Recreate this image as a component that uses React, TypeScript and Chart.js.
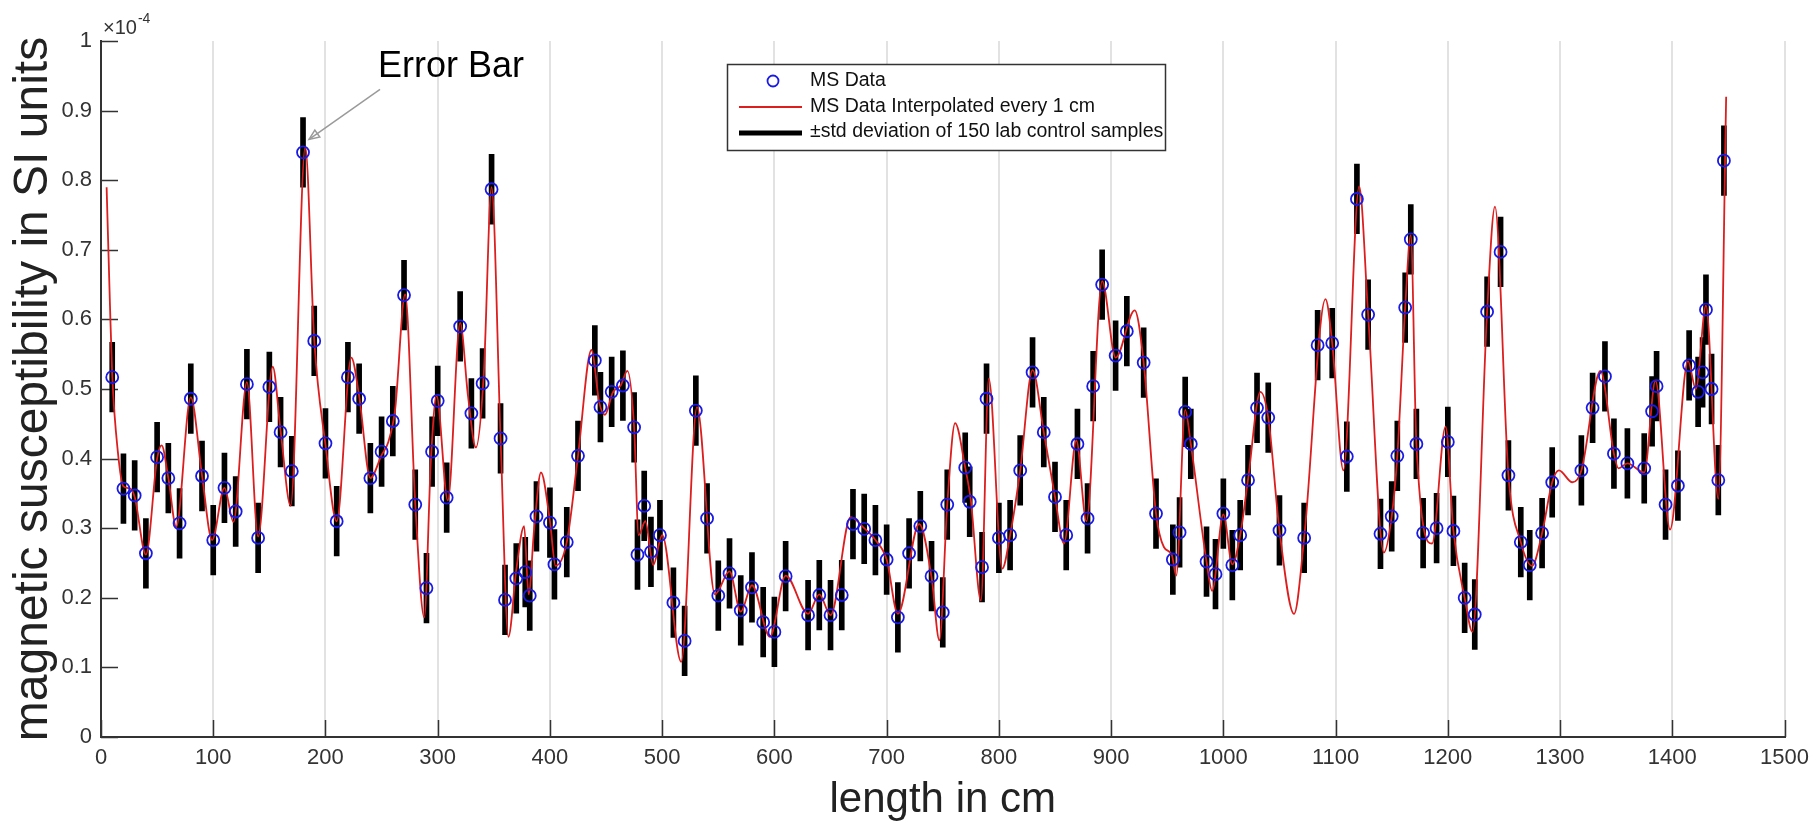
import React, { useEffect, useRef } from 'react';
import { Chart, registerables } from 'chart.js';

Chart.register(...registerables);

// ---- data (values in units of 1e-4 SI) ----
const MS_X = [
  10, 20, 30, 40, 50, 60, 70, 80, 90, 100, 110, 120, 130, 140, 150, 160, 170, 180, 190, 200,
  210, 220, 230, 240, 250, 260, 270, 280, 290, 295, 300, 308, 320, 330, 340, 348, 356, 360, 370, 378,
  382, 388, 400, 404, 415, 425, 440, 445, 455, 465, 475, 478, 484, 490, 498, 510, 520, 530, 540, 550,
  560, 570, 580, 590, 600, 610, 630, 640, 650, 660, 670, 680, 690, 700, 710, 720, 730, 740, 750, 754,
  770, 774, 785, 789, 800, 810, 819, 830, 840, 850, 860, 870, 879, 884, 892, 904, 914, 929, 940, 955,
  961, 966, 971, 985, 993, 1000, 1008, 1015, 1022, 1030, 1040, 1050, 1072, 1084, 1097, 1110, 1119, 1129, 1140, 1150,
  1155, 1162, 1167, 1172, 1178, 1190, 1200, 1205, 1215, 1224, 1235, 1247, 1254, 1265, 1273, 1284, 1293, 1319, 1329, 1340,
  1348, 1360, 1375, 1382, 1386, 1394, 1405, 1415, 1423, 1427, 1430, 1435, 1441, 1446,
];
const MS_Y = [
  0.517, 0.357, 0.347, 0.264, 0.402, 0.372, 0.307, 0.486, 0.375, 0.283, 0.358, 0.324, 0.507, 0.286, 0.503, 0.438, 0.382, 0.840, 0.569, 0.422,
  0.310, 0.517, 0.486, 0.372, 0.410, 0.454, 0.635, 0.334, 0.214, 0.410, 0.483, 0.344, 0.590, 0.465, 0.508, 0.787, 0.429, 0.197, 0.228, 0.237,
  0.203, 0.317, 0.308, 0.248, 0.280, 0.404, 0.541, 0.474, 0.496, 0.505, 0.445, 0.262, 0.332, 0.266, 0.290, 0.193, 0.138, 0.469, 0.314, 0.203,
  0.235, 0.182, 0.215, 0.165, 0.151, 0.231, 0.175, 0.204, 0.175, 0.204, 0.306, 0.299, 0.283, 0.255, 0.172, 0.264, 0.303, 0.231, 0.179, 0.334,
  0.387, 0.338, 0.244, 0.486, 0.286, 0.290, 0.383, 0.524, 0.438, 0.345, 0.290, 0.421, 0.314, 0.504, 0.650, 0.548, 0.583, 0.538, 0.321, 0.255,
  0.294, 0.467, 0.421, 0.252, 0.234, 0.321, 0.247, 0.290, 0.369, 0.473, 0.459, 0.297, 0.286, 0.563, 0.566, 0.403, 0.773, 0.607, 0.292, 0.317,
  0.404, 0.617, 0.715, 0.421, 0.293, 0.300, 0.424, 0.296, 0.200, 0.176, 0.611, 0.697, 0.376, 0.280, 0.247, 0.293, 0.366, 0.383, 0.473, 0.518,
  0.407, 0.393, 0.386, 0.468, 0.504, 0.334, 0.361, 0.534, 0.496, 0.524, 0.614, 0.500, 0.369, 0.828,
];

// red interpolated curve, vertices
const CURVE_X = [
  5, 8, 10, 15, 20, 26, 30, 40, 50, 54, 60, 67, 80, 90, 99, 110, 118, 130, 140, 153,
  160, 169, 182, 190, 200, 210, 223, 230, 240, 250, 256, 262, 271, 280, 288, 294, 299, 309, 320, 327,
  334, 341, 348, 356, 363, 370, 377, 381, 386, 392, 400, 405, 415, 425, 437, 444, 449, 456, 463, 469,
  475, 479, 485, 492, 500, 517, 531, 547, 560, 570, 580, 596, 610, 630, 640, 650, 668, 680, 690, 700,
  710, 729, 740, 747, 754, 761, 770, 775, 784, 791, 803, 810, 819, 830, 840, 850, 858, 869, 878, 892,
  904, 921, 929, 940, 947, 954, 958, 966, 971, 985, 990, 1000, 1008, 1015, 1022, 1033, 1040, 1050, 1063, 1072,
  1091, 1097, 1107, 1121, 1129, 1143, 1150, 1155, 1162, 1167, 1172, 1186, 1198, 1205, 1215, 1222, 1235, 1242, 1254, 1265,
  1275, 1284, 1293, 1299, 1311, 1319, 1336, 1348, 1352, 1360, 1375, 1385, 1398, 1414, 1421, 1430, 1441, 1448,
];
const CURVE_Y = [
  0.79, 0.62, 0.52, 0.41, 0.36, 0.357, 0.345, 0.262, 0.40, 0.419, 0.372, 0.302, 0.488, 0.376, 0.283, 0.358, 0.309, 0.51, 0.288, 0.532,
  0.44, 0.332, 0.848, 0.57, 0.42, 0.31, 0.545, 0.49, 0.372, 0.405, 0.424, 0.47, 0.636, 0.335, 0.172, 0.40, 0.49, 0.34, 0.595, 0.49,
  0.416, 0.52, 0.79, 0.43, 0.144, 0.24, 0.303, 0.205, 0.30, 0.38, 0.31, 0.246, 0.28, 0.404, 0.556, 0.48, 0.463, 0.495, 0.505, 0.526,
  0.445, 0.29, 0.31, 0.247, 0.29, 0.108, 0.474, 0.205, 0.238, 0.18, 0.218, 0.144, 0.232, 0.177, 0.205, 0.175, 0.316, 0.30, 0.283, 0.255,
  0.177, 0.306, 0.23, 0.139, 0.334, 0.451, 0.387, 0.34, 0.196, 0.515, 0.242, 0.29, 0.383, 0.527, 0.438, 0.345, 0.278, 0.426, 0.31, 0.655,
  0.545, 0.613, 0.538, 0.321, 0.273, 0.262, 0.232, 0.47, 0.421, 0.252, 0.21, 0.32, 0.248, 0.29, 0.37, 0.496, 0.459, 0.297, 0.177, 0.286,
  0.629, 0.566, 0.383, 0.791, 0.607, 0.265, 0.317, 0.404, 0.617, 0.721, 0.421, 0.278, 0.446, 0.296, 0.2, 0.151, 0.611, 0.762, 0.376, 0.28,
  0.246, 0.293, 0.366, 0.383, 0.366, 0.383, 0.526, 0.407, 0.386, 0.393, 0.38, 0.512, 0.298, 0.54, 0.50, 0.62, 0.342, 0.92,
];

const STD = 0.05; // ± std deviation of lab control samples
const X_MIN = 0;
const X_MAX = 1500;
const X_STEP = 100;
const Y_MIN = 0;
const Y_MAX = 1;
const Y_STEP = 0.1;

const LEGEND_LABELS = [
  'MS Data',
  'MS Data Interpolated every 1 cm',
  '\u00B1std deviation of 150 lab control samples',
];
const Y_TITLE = 'magnetic susceptibility in SI units';
const X_TITLE = 'length in cm';
const ANNOTATION = 'Error Bar';
const ANNOT_X = 180;
const ANNOT_Y = 0.84;

const BLUE = '#1a1ae6';
const RED = '#dc1e1e';
const FONT = '"Liberation Sans", Arial, Helvetica, sans-serif';

const overlayPlugin = {
  id: 'overlay',
  beforeDatasetsDraw(chart: any) {
    const { ctx, chartArea, scales } = chart;
    const xs = scales.x;
    const ys = scales.y;
    ctx.save();
    ctx.strokeStyle = '#333';
    ctx.lineWidth = 1.5;
    ctx.beginPath();
    for (const t of xs.ticks) {
      const px = Math.round(xs.getPixelForValue(t.value)) + 0.5;
      ctx.moveTo(px, chartArea.bottom);
      ctx.lineTo(px, chartArea.bottom - 17);
    }
    for (const t of ys.ticks) {
      const py = Math.round(ys.getPixelForValue(t.value)) + 0.5;
      ctx.moveTo(chartArea.left, py);
      ctx.lineTo(chartArea.left + 17, py);
    }
    ctx.stroke();
    ctx.restore();
  },
  afterDraw(chart: any) {
    const { ctx, chartArea, scales } = chart;
    const xs = scales.x;
    const ys = scales.y;
    ctx.save();

    // exponent label
    ctx.fillStyle = '#333';
    ctx.textBaseline = 'alphabetic';
    ctx.textAlign = 'left';
    ctx.font = `20px ${FONT}`;
    const ex0 = chartArea.left + 2;
    ctx.fillText('\u00D710', ex0, chartArea.top - 7);
    const w = ctx.measureText('\u00D710').width;
    ctx.font = `14px ${FONT}`;
    ctx.fillText('-4', ex0 + w + 1, chartArea.top - 18);

    // annotation with arrow
    const tipX = xs.getPixelForValue(ANNOT_X) + 6;
    const tipY = ys.getPixelForValue(ANNOT_Y) - 13;
    const tailX = tipX + 71;
    const tailY = tipY - 50;
    ctx.strokeStyle = '#9a9a9a';
    ctx.fillStyle = '#9a9a9a';
    ctx.lineWidth = 1.5;
    ctx.beginPath();
    ctx.moveTo(tailX, tailY);
    ctx.lineTo(tipX, tipY);
    ctx.stroke();
    const ang = Math.atan2(tipY - tailY, tipX - tailX);
    const ah = 11;
    ctx.beginPath();
    ctx.moveTo(tipX, tipY);
    ctx.lineTo(tipX - ah * Math.cos(ang - 0.4), tipY - ah * Math.sin(ang - 0.4));
    ctx.lineTo(tipX - ah * Math.cos(ang + 0.4), tipY - ah * Math.sin(ang + 0.4));
    ctx.closePath();
    ctx.stroke();
    ctx.fillStyle = '#000';
    ctx.font = `36px ${FONT}`;
    ctx.fillText(ANNOTATION, 378, 77);

    // legend
    const bx = 727, by = 64, bw = 438, bh = 86;
    ctx.fillStyle = '#fff';
    ctx.fillRect(bx, by, bw, bh);
    ctx.strokeStyle = '#333';
    ctx.lineWidth = 1.5;
    ctx.strokeRect(bx + 0.5, by + 0.5, bw, bh);
    const rows = [81, 107, 132];
    ctx.strokeStyle = BLUE;
    ctx.lineWidth = 1.8;
    ctx.beginPath();
    ctx.arc(773, rows[0], 5.5, 0, Math.PI * 2);
    ctx.stroke();
    ctx.strokeStyle = RED;
    ctx.lineWidth = 1.8;
    ctx.beginPath();
    ctx.moveTo(739, rows[1]);
    ctx.lineTo(802, rows[1]);
    ctx.stroke();
    ctx.strokeStyle = '#000';
    ctx.lineWidth = 5;
    ctx.beginPath();
    ctx.moveTo(739, rows[2] + 1);
    ctx.lineTo(802, rows[2] + 1);
    ctx.stroke();
    ctx.fillStyle = '#111';
    ctx.font = `19.5px ${FONT}`;
    ctx.textBaseline = 'middle';
    LEGEND_LABELS.forEach((t, i) => ctx.fillText(t, 810, rows[i]));
    ctx.restore();
  },
};

export default function App() {
  const ref = useRef<HTMLCanvasElement | null>(null);

  useEffect(() => {
    if (!ref.current) return;
    const points = MS_X.map((x, i) => ({ x, y: MS_Y[i] }));
    const bars = MS_X.map((x, i) => ({ x, y: [MS_Y[i] - STD, MS_Y[i] + STD] }));
    const curve = CURVE_X.map((x, i) => ({ x, y: CURVE_Y[i] }));
    const tickFont = { family: FONT, size: 22 };

    const chart = new Chart(ref.current, {
      type: 'scatter',
      data: {
        datasets: [
          {
            type: 'scatter',
            label: LEGEND_LABELS[0],
            data: points,
            pointStyle: 'circle',
            pointRadius: 6,
            pointBorderWidth: 1.8,
            pointBorderColor: BLUE,
            pointBackgroundColor: 'rgba(0,0,0,0)',
            order: 0,
          } as any,
          {
            type: 'line',
            label: LEGEND_LABELS[1],
            data: curve,
            borderColor: RED,
            borderWidth: 1.8,
            pointRadius: 0,
            fill: false,
            cubicInterpolationMode: 'monotone',
            order: 1,
          } as any,
          {
            type: 'bar',
            label: LEGEND_LABELS[2],
            data: bars,
            backgroundColor: '#000',
            borderWidth: 0,
            barThickness: 5,
            grouped: false,
            order: 2,
          } as any,
        ],
      },
      options: {
        animation: false,
        responsive: true,
        maintainAspectRatio: false,
        events: [],
        layout: { padding: { left: 0, top: 41, right: 28, bottom: 0 } },
        plugins: {
          legend: { display: false },
          tooltip: { enabled: false },
        },
        scales: {
          x: {
            type: 'linear',
            min: X_MIN,
            max: X_MAX,
            offset: false,
            afterFit: (s: any) => { s.height = 87; },
            grid: { display: true, color: '#e2e2e2', lineWidth: 2, drawTicks: false, offset: false },
            border: { display: true, color: '#333', width: 2 },
            ticks: {
              stepSize: X_STEP,
              padding: 8,
              color: '#333',
              font: tickFont,
              maxRotation: 0,
              callback: (v: any) => String(v),
            },
            title: {
              display: true,
              text: X_TITLE,
              color: '#222',
              font: { family: FONT, size: 42, lineHeight: 1 },
              padding: { top: 0, bottom: 3 },
            },
          },
          y: {
            type: 'linear',
            min: Y_MIN,
            max: Y_MAX,
            afterFit: (s: any) => { s.width = 101; },
            grid: { display: false, drawTicks: false },
            border: { display: true, color: '#333', width: 2 },
            ticks: {
              stepSize: Y_STEP,
              padding: 9,
              color: '#333',
              font: tickFont,
              callback: (v: any) => String(Number(Number(v).toFixed(1))),
            },
            title: {
              display: true,
              text: Y_TITLE,
              color: '#222',
              font: { family: FONT, size: 48, lineHeight: 1 },
              padding: { top: 10, bottom: 0 },
            },
          },
        },
      } as any,
      plugins: [overlayPlugin],
    });
    return () => chart.destroy();
  }, []);

  return (
    <div style={{ position: 'fixed', left: 0, top: 0, width: '1817px', height: '824px', background: '#fff' }}>
      <canvas ref={ref} />
    </div>
  );
}
